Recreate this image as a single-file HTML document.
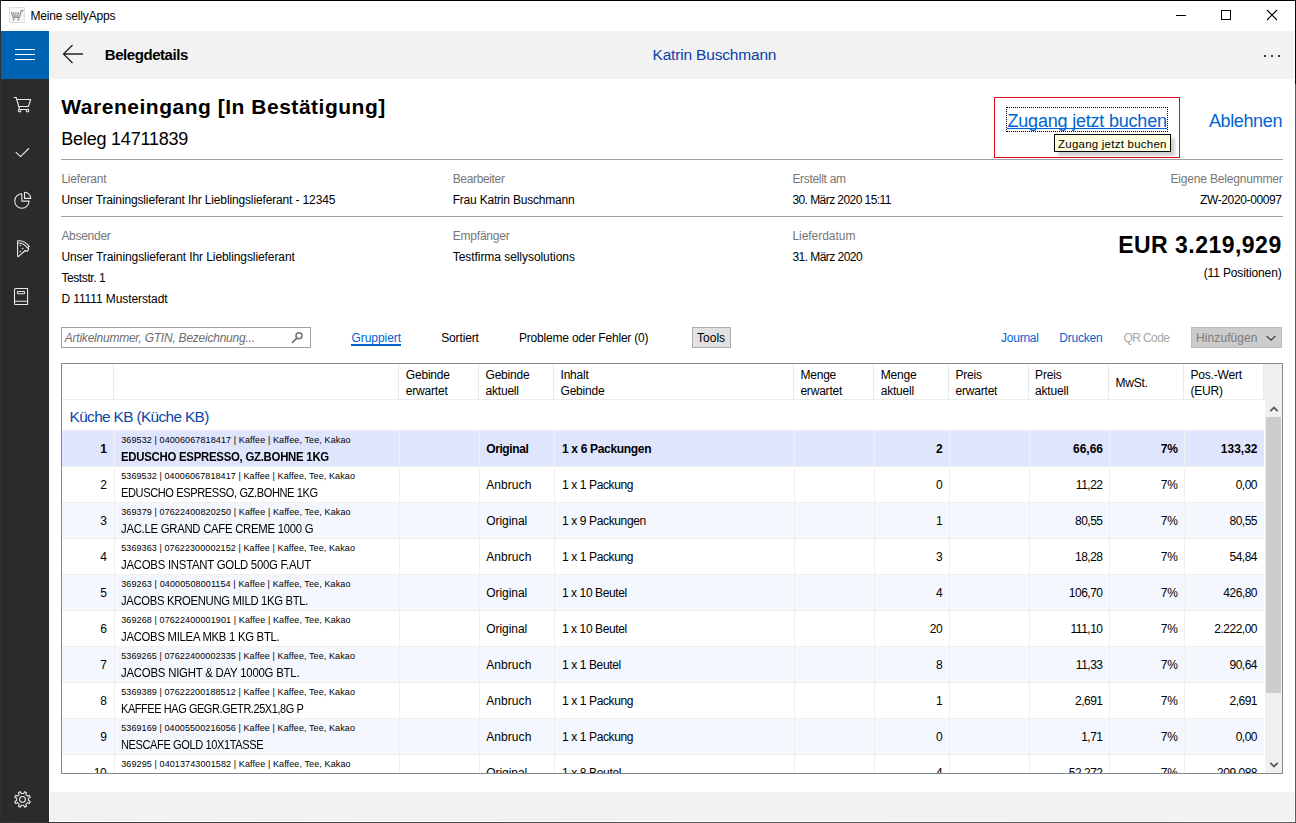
<!DOCTYPE html><html><head><meta charset="utf-8"><title>Meine sellyApps</title><style>*{margin:0;padding:0}
html,body{width:1296px;height:823px;overflow:hidden;background:#fff}
body{position:relative;font-family:"Liberation Sans",Arial,sans-serif}
.t{position:absolute;white-space:pre}
.r{position:absolute}
</style></head><body>
<div class="r" style="left:0px;top:0px;width:1296px;height:823px;background:#fff"></div>
<svg class="r" style="left:9px;top:7px" width="16" height="16" viewBox="0 0 16 16">
<rect x="0.5" y="0.5" width="15" height="15" fill="#f7f7f7" stroke="#e0e0e0"/>
<path d="M2.3 5 L3.9 10 M4.4 5.2 L5.6 9.6 M6.9 5.2 L7 9.6 M9.3 5.2 L8.6 9.6 M11.6 5 L10.6 10 L12.3 3.6 H14.4 M3.6 10.4 H11" fill="none" stroke="#8c8c8c" stroke-width="1.1"/>
<circle cx="4.5" cy="12.4" r="1" fill="#8c8c8c"/><circle cx="9.5" cy="12.4" r="1" fill="#8c8c8c"/>
</svg>
<div class="t " style="top:9px;font-size:12px;line-height:14px;color:#000;letter-spacing:-0.170px;left:30.50px;">Meine sellyApps</div>
<div class="r" style="left:1176px;top:15px;width:10px;height:1px;background:#000"></div>
<div class="r" style="left:1221px;top:10px;width:10px;height:10px;border:1px solid #000;box-sizing:border-box"></div>
<svg class="r" style="left:1266px;top:9px" width="12" height="12" viewBox="0 0 12 12"><path d="M1 1 L11 11 M11 1 L1 11" stroke="#000" stroke-width="1.1"/></svg>
<div class="r" style="left:1px;top:31px;width:48px;height:48px;background:#0063b1"></div>
<div class="r" style="left:1px;top:79px;width:48px;height:743px;background:#2b2b2b"></div>
<div class="r" style="left:15px;top:49px;width:20px;height:1px;background:#fff"></div>
<div class="r" style="left:15px;top:54px;width:20px;height:1px;background:#fff"></div>
<div class="r" style="left:15px;top:59px;width:20px;height:1px;background:#fff"></div>
<svg class="r" style="left:12px;top:95px" width="22" height="20" viewBox="0 0 22 20"><path d="M2.1 2.5 H4.2 L7.6 14.5 H16.6 M4.8 4.5 H18.7 L16.4 11.5 H6.7" fill="none" stroke="#e8e8e8" stroke-width="1.1" stroke-linecap="round" stroke-linejoin="round"/><circle cx="7.6" cy="15.6" r="1.3" fill="none" stroke="#e8e8e8" stroke-width="1.1" stroke-linecap="round" stroke-linejoin="round"/><circle cx="15.5" cy="15.6" r="1.3" fill="none" stroke="#e8e8e8" stroke-width="1.1" stroke-linecap="round" stroke-linejoin="round"/></svg>
<svg class="r" style="left:14px;top:145px" width="18" height="14" viewBox="0 0 18 14"><path d="M2.1 7.4 L6.5 11.6 L14.7 3.5" fill="none" stroke="#e8e8e8" stroke-width="1.1" stroke-linecap="round" stroke-linejoin="round"/></svg>
<svg class="r" style="left:12px;top:190px" width="22" height="22" viewBox="0 0 22 22"><path d="M9.8 3.8 A7.2 7.2 0 1 0 17.1 11.1 H9.8 Z" fill="none" stroke="#e8e8e8" stroke-width="1.1" stroke-linecap="round" stroke-linejoin="round"/><path d="M12.5 2.2 A6.2 6.2 0 0 1 18.7 8.4 H12.5 Z" fill="none" stroke="#e8e8e8" stroke-width="1.1" stroke-linecap="round" stroke-linejoin="round"/></svg>
<svg class="r" style="left:14px;top:238px" width="18" height="22" viewBox="0 0 18 22"><path d="M3.6 2.8 Q10.5 2.2 15.2 8.4 L13.9 9.7 A1.9 1.9 0 0 1 11.1 12.5 L4.6 18.4 Q3.6 19 3.6 17.6 Z" fill="none" stroke="#e8e8e8" stroke-width="1.1" stroke-linecap="round" stroke-linejoin="round"/><path d="M3.8 5 Q9.8 4.8 13.6 10.1" fill="none" stroke="#e8e8e8" stroke-width="1.1" stroke-linecap="round" stroke-linejoin="round"/><circle cx="6.3" cy="7.6" r="0.75" fill="#e8e8e8"/><circle cx="8.6" cy="10.5" r="0.85" fill="#e8e8e8"/><circle cx="6.3" cy="13.6" r="0.75" fill="#e8e8e8"/></svg>
<svg class="r" style="left:12px;top:286px" width="20" height="21" viewBox="0 0 20 21"><path d="M3.6 2.5 H15.6 V18.5 H3.6 Q2.5 18.5 2.5 17.4 V3.6 Q2.5 2.5 3.6 2.5 Z M2.5 15.2 H15.6" fill="none" stroke="#e8e8e8" stroke-width="1.1" stroke-linecap="round" stroke-linejoin="round"/><rect x="5.4" y="5.5" width="7.2" height="2.3" rx="0.8" fill="none" stroke="#e8e8e8" stroke-width="1.1" stroke-linecap="round" stroke-linejoin="round"/></svg>
<svg class="r" style="left:12px;top:789px" width="22" height="22" viewBox="0 0 22 22"><path d="M16.38 11.62 L18.23 12.45 L17.42 14.42 L15.51 13.69 L13.79 15.41 L14.52 17.32 L12.55 18.13 L11.72 16.28 L9.28 16.28 L8.45 18.13 L6.48 17.32 L7.21 15.41 L5.49 13.69 L3.58 14.42 L2.77 12.45 L4.62 11.62 L4.62 9.18 L2.77 8.35 L3.58 6.38 L5.49 7.11 L7.21 5.39 L6.48 3.48 L8.45 2.67 L9.28 4.52 L11.72 4.52 L12.55 2.67 L14.52 3.48 L13.79 5.39 L15.51 7.11 L17.42 6.38 L18.23 8.35 L16.38 9.18 Z" fill="none" stroke="#e8e8e8" stroke-width="1.1" stroke-linecap="round" stroke-linejoin="round"/><circle cx="10.5" cy="10.4" r="2.9" fill="none" stroke="#e8e8e8" stroke-width="1.1" stroke-linecap="round" stroke-linejoin="round"/></svg>
<div class="r" style="left:50px;top:31px;width:1244px;height:48px;background:#f2f2f2"></div>
<svg class="r" style="left:62px;top:44px" width="22" height="20" viewBox="0 0 22 20"><path d="M10.5 1 L1.5 10 L10.5 19 M1.5 10 H21" fill="none" stroke="#222" stroke-width="1.3"/></svg>
<div class="t " style="top:46px;font-size:15px;line-height:17px;color:#000;font-weight:bold;letter-spacing:-0.443px;left:104.80px;">Belegdetails</div>
<div class="t " style="top:46px;font-size:15.5px;line-height:17px;color:#0a3fa8;letter-spacing:-0.177px;left:652.50px;">Katrin Buschmann</div>
<div class="r" style="left:1264px;top:55px;width:2px;height:2px;background:#000;border-radius:1px"></div>
<div class="r" style="left:1271px;top:55px;width:2px;height:2px;background:#000;border-radius:1px"></div>
<div class="r" style="left:1278px;top:55px;width:2px;height:2px;background:#000;border-radius:1px"></div>
<div class="t " style="top:95px;font-size:21px;line-height:23px;color:#000;font-weight:bold;letter-spacing:0.516px;left:61.30px;">Wareneingang [In Bestätigung]</div>
<div class="t " style="top:129px;font-size:18px;line-height:20px;color:#000;letter-spacing:-0.215px;left:61.30px;">Beleg 14711839</div>
<div class="r" style="left:994px;top:97px;width:186px;height:61px;border:1px solid #e0101e;box-sizing:border-box"></div>
<div class="r" style="left:1006px;top:107px;width:162px;height:25px;border:1px dotted #000;box-sizing:border-box"></div>
<div class="t " style="top:111px;font-size:18px;line-height:20px;color:#0063d1;letter-spacing:-0.201px;left:1007.50px;">Zugang jetzt buchen</div>
<div class="r" style="left:1007px;top:128px;width:160px;height:1px;background:#0063d1"></div>
<div class="t " style="top:111px;font-size:18px;line-height:20px;color:#0063d1;letter-spacing:-0.367px;left:1208.90px;">Ablehnen</div>
<div class="r" style="left:1058px;top:138px;width:117px;height:18px;background:rgba(0,0,0,0.18);filter:blur(1.5px)"></div>
<div class="r" style="left:1054px;top:134px;width:117px;height:18px;background:#ffffe1;border:1px solid #000;box-sizing:border-box"></div>
<div class="t " style="top:137.5px;font-size:11.5px;line-height:12px;color:#000;letter-spacing:0.233px;left:1058.00px;">Zugang jetzt buchen</div>
<div class="r" style="left:61px;top:159px;width:1222px;height:1px;background:#a0a0a0"></div>
<div class="r" style="left:61px;top:216px;width:1222px;height:1px;background:#a0a0a0"></div>
<div class="t " style="top:172px;font-size:12px;line-height:14px;color:#767676;letter-spacing:-0.200px;left:61.40px;">Lieferant</div>
<div class="t " style="top:172px;font-size:12px;line-height:14px;color:#767676;letter-spacing:-0.352px;left:452.70px;">Bearbeiter</div>
<div class="t " style="top:172px;font-size:12px;line-height:14px;color:#767676;letter-spacing:-0.308px;left:792.40px;">Erstellt am</div>
<div class="t " style="top:172px;font-size:12px;line-height:14px;color:#767676;letter-spacing:-0.182px;left:1170.50px;">Eigene Belegnummer</div>
<div class="t " style="top:193px;font-size:12px;line-height:14px;color:#000;letter-spacing:-0.139px;left:61.40px;">Unser Trainingslieferant Ihr Lieblingslieferant - 12345</div>
<div class="t " style="top:193px;font-size:12px;line-height:14px;color:#000;letter-spacing:-0.208px;left:452.70px;">Frau Katrin Buschmann</div>
<div class="t " style="top:193px;font-size:12px;line-height:14px;color:#000;letter-spacing:-0.560px;left:792.40px;">30. März 2020 15:11</div>
<div class="t " style="top:193px;font-size:12px;line-height:14px;color:#000;letter-spacing:-0.375px;left:1200.00px;">ZW-2020-00097</div>
<div class="t " style="top:229px;font-size:12px;line-height:14px;color:#767676;letter-spacing:-0.281px;left:61.40px;">Absender</div>
<div class="t " style="top:229px;font-size:12px;line-height:14px;color:#767676;letter-spacing:-0.200px;left:452.70px;">Empfänger</div>
<div class="t " style="top:229px;font-size:12px;line-height:14px;color:#767676;letter-spacing:-0.037px;left:792.40px;">Lieferdatum</div>
<div class="t " style="top:250px;font-size:12px;line-height:14px;color:#000;letter-spacing:-0.088px;left:61.40px;">Unser Trainingslieferant Ihr Lieblingslieferant</div>
<div class="t " style="top:250px;font-size:12px;line-height:14px;color:#000;letter-spacing:-0.051px;left:452.70px;">Testfirma sellysolutions</div>
<div class="t " style="top:250px;font-size:12px;line-height:14px;color:#000;letter-spacing:-0.542px;left:792.40px;">31. März 2020</div>
<div class="t " style="top:271px;font-size:12px;line-height:14px;color:#000;letter-spacing:-0.402px;left:61.40px;">Teststr. 1</div>
<div class="t " style="top:292px;font-size:12px;line-height:14px;color:#000;letter-spacing:-0.091px;left:61.40px;">D 11111 Musterstadt</div>
<div class="t " style="top:232px;font-size:23px;line-height:26px;color:#000;font-weight:bold;letter-spacing:0.477px;left:1118.20px;">EUR 3.219,929</div>
<div class="t " style="top:266px;font-size:12px;line-height:14px;color:#000;letter-spacing:-0.130px;left:1203.70px;">(11 Positionen)</div>
<div class="r" style="left:61px;top:327px;width:250px;height:21px;border:1px solid #a0a0a0;box-sizing:border-box;background:#fff"></div>
<div class="t " style="top:331px;font-size:12px;line-height:14px;color:#6d6d6d;font-style:italic;letter-spacing:-0.232px;left:64.80px;">Artikelnummer, GTIN, Bezeichnung...</div>
<svg class="r" style="left:290px;top:331px" width="16" height="14" viewBox="0 0 16 14"><circle cx="9" cy="4.8" r="3.0" fill="none" stroke="#707070" stroke-width="1.5"/><path d="M6.6 7.3 L2.4 11.4" stroke="#707070" stroke-width="1.7" stroke-linecap="round"/></svg>
<div class="t " style="top:331px;font-size:12px;line-height:14px;color:#0063d1;letter-spacing:-0.040px;left:351.40px;">Gruppiert</div>
<div class="r" style="left:351px;top:344px;width:50px;height:2px;background:#0063d1"></div>
<div class="t " style="top:331px;font-size:12px;line-height:14px;color:#000;letter-spacing:-0.140px;left:441.20px;">Sortiert</div>
<div class="t " style="top:331px;font-size:12px;line-height:14px;color:#000;letter-spacing:-0.194px;left:519.00px;">Probleme oder Fehler (0)</div>
<div class="r" style="left:692px;top:327px;width:39px;height:21px;background:#e1e1e1;border:1px solid #adadad;box-sizing:border-box"></div>
<div class="t " style="top:331px;font-size:12px;line-height:14px;color:#000;letter-spacing:-0.003px;left:697.10px;">Tools</div>
<div class="t " style="top:331px;font-size:12px;line-height:14px;color:#0063d1;letter-spacing:-0.260px;left:1001.10px;">Journal</div>
<div class="t " style="top:331px;font-size:12px;line-height:14px;color:#0063d1;letter-spacing:-0.213px;left:1059.20px;">Drucken</div>
<div class="t " style="top:331px;font-size:12px;line-height:14px;color:#a6a6a6;letter-spacing:-0.570px;left:1123.40px;">QR Code</div>
<div class="r" style="left:1191px;top:327px;width:91px;height:21px;background:#cccccc;border:1px solid #bdbdbd;box-sizing:border-box"></div>
<div class="t " style="top:331px;font-size:12px;line-height:14px;color:#7a7a7a;letter-spacing:0.077px;left:1196.10px;">Hinzufügen</div>
<svg class="r" style="left:1265px;top:334px" width="12" height="8" viewBox="0 0 12 8"><path d="M1.6 1.8 L6 6.2 L10.4 1.8" fill="none" stroke="#333" stroke-width="1.1"/></svg>
<div class="r" style="left:61px;top:363px;width:1222px;height:411px;border:1px solid #828790;box-sizing:border-box;background:#fff"></div>
<div class="r" style="left:62px;top:399px;width:1202px;height:1px;background:#ececec"></div>
<div class="r" style="left:1264px;top:364px;width:18px;height:36px;background:#f0f0f0"></div>
<div class="r" style="left:113px;top:364px;width:1px;height:35px;background:#e8e8e8"></div>
<div class="r" style="left:398px;top:364px;width:1px;height:35px;background:#e8e8e8"></div>
<div class="r" style="left:478px;top:364px;width:1px;height:35px;background:#e8e8e8"></div>
<div class="r" style="left:553px;top:364px;width:1px;height:35px;background:#e8e8e8"></div>
<div class="r" style="left:793px;top:364px;width:1px;height:35px;background:#e8e8e8"></div>
<div class="r" style="left:873px;top:364px;width:1px;height:35px;background:#e8e8e8"></div>
<div class="r" style="left:948px;top:364px;width:1px;height:35px;background:#e8e8e8"></div>
<div class="r" style="left:1028px;top:364px;width:1px;height:35px;background:#e8e8e8"></div>
<div class="r" style="left:1108px;top:364px;width:1px;height:35px;background:#e8e8e8"></div>
<div class="r" style="left:1183px;top:364px;width:1px;height:35px;background:#e8e8e8"></div>
<div class="r" style="left:1263px;top:364px;width:1px;height:35px;background:#e8e8e8"></div>
<div class="t " style="top:368px;font-size:12px;line-height:14px;color:#000;letter-spacing:-0.200px;left:405.80px;">Gebinde</div>
<div class="t " style="top:384px;font-size:12px;line-height:14px;color:#000;letter-spacing:-0.200px;left:405.80px;">erwartet</div>
<div class="t " style="top:368px;font-size:12px;line-height:14px;color:#000;letter-spacing:-0.200px;left:485.50px;">Gebinde</div>
<div class="t " style="top:384px;font-size:12px;line-height:14px;color:#000;letter-spacing:-0.200px;left:485.50px;">aktuell</div>
<div class="t " style="top:368px;font-size:12px;line-height:14px;color:#000;letter-spacing:-0.200px;left:560.50px;">Inhalt</div>
<div class="t " style="top:384px;font-size:12px;line-height:14px;color:#000;letter-spacing:-0.200px;left:560.50px;">Gebinde</div>
<div class="t " style="top:368px;font-size:12px;line-height:14px;color:#000;letter-spacing:-0.200px;left:800.40px;">Menge</div>
<div class="t " style="top:384px;font-size:12px;line-height:14px;color:#000;letter-spacing:-0.200px;left:800.40px;">erwartet</div>
<div class="t " style="top:368px;font-size:12px;line-height:14px;color:#000;letter-spacing:-0.200px;left:880.70px;">Menge</div>
<div class="t " style="top:384px;font-size:12px;line-height:14px;color:#000;letter-spacing:-0.200px;left:880.70px;">aktuell</div>
<div class="t " style="top:368px;font-size:12px;line-height:14px;color:#000;letter-spacing:-0.200px;left:955.50px;">Preis</div>
<div class="t " style="top:384px;font-size:12px;line-height:14px;color:#000;letter-spacing:-0.200px;left:955.50px;">erwartet</div>
<div class="t " style="top:368px;font-size:12px;line-height:14px;color:#000;letter-spacing:-0.200px;left:1035.10px;">Preis</div>
<div class="t " style="top:384px;font-size:12px;line-height:14px;color:#000;letter-spacing:-0.200px;left:1035.10px;">aktuell</div>
<div class="t " style="top:368px;font-size:12px;line-height:14px;color:#000;letter-spacing:-0.200px;left:1190.50px;">Pos.-Wert</div>
<div class="t " style="top:384px;font-size:12px;line-height:14px;color:#000;letter-spacing:-0.200px;left:1190.50px;">(EUR)</div>
<div class="t " style="top:376px;font-size:12px;line-height:14px;color:#000;letter-spacing:-0.200px;left:1115.50px;">MwSt.</div>
<div class="t " style="top:408px;font-size:15.4px;line-height:17px;color:#0b46a8;letter-spacing:-0.651px;left:69.60px;">Küche KB (Küche KB)</div>
<div class="r" style="left:62px;top:430px;width:1202px;height:343px;overflow:hidden">
<div style="position:absolute;left:-62px;top:-430px;width:1296px;height:823px">
<div class="r" style="left:62px;top:430px;width:1202px;height:1px;background:#f0f0f0"></div>
<div class="r" style="left:62px;top:431px;width:1202px;height:35px;background:#e0e5fe"></div>
<div class="r" style="left:114px;top:431px;width:1px;height:35px;background:#f0f0f0"></div>
<div class="r" style="left:399px;top:431px;width:1px;height:35px;background:#f0f0f0"></div>
<div class="r" style="left:479px;top:431px;width:1px;height:35px;background:#f0f0f0"></div>
<div class="r" style="left:554px;top:431px;width:1px;height:35px;background:#f0f0f0"></div>
<div class="r" style="left:794px;top:431px;width:1px;height:35px;background:#f0f0f0"></div>
<div class="r" style="left:874px;top:431px;width:1px;height:35px;background:#f0f0f0"></div>
<div class="r" style="left:949px;top:431px;width:1px;height:35px;background:#f0f0f0"></div>
<div class="r" style="left:1029px;top:431px;width:1px;height:35px;background:#f0f0f0"></div>
<div class="r" style="left:1109px;top:431px;width:1px;height:35px;background:#f0f0f0"></div>
<div class="r" style="left:1184px;top:431px;width:1px;height:35px;background:#f0f0f0"></div>
<div class="t " style="top:441.6px;font-size:12px;line-height:14px;color:#000;font-weight:bold;left:100.13px;">1</div>
<div class="t " style="top:435px;font-size:9px;line-height:10px;color:#000;letter-spacing:0.108px;left:121.20px;">369532 | 04006067818417 | Kaffee | Kaffee, Tee, Kakao</div>
<div class="t " style="top:450px;font-size:12px;line-height:14px;color:#000;font-weight:bold;letter-spacing:-0.271px;transform:scaleX(0.9485);transform-origin:0 0;left:121.20px;">EDUSCHO ESPRESSO, GZ.BOHNE 1KG</div>
<div class="t " style="top:441.6px;font-size:12px;line-height:14px;color:#000;font-weight:bold;letter-spacing:-0.384px;left:486.20px;">Original</div>
<div class="t " style="top:441.6px;font-size:12px;line-height:14px;color:#000;font-weight:bold;letter-spacing:-0.317px;left:561.90px;">1 x 6 Packungen</div>
<div class="t " style="top:441.6px;font-size:12px;line-height:14px;color:#000;font-weight:bold;left:935.93px;">2</div>
<div class="t " style="top:441.6px;font-size:12px;line-height:14px;color:#000;font-weight:bold;left:1072.97px;">66,66</div>
<div class="t " style="top:441.6px;font-size:12px;line-height:14px;color:#000;font-weight:bold;left:1160.66px;">7%</div>
<div class="t " style="top:441.6px;font-size:12px;line-height:14px;color:#000;font-weight:bold;left:1220.80px;">133,32</div>
<div class="r" style="left:62px;top:466px;width:1202px;height:1px;background:#f0f0f0"></div>
<div class="r" style="left:62px;top:467px;width:1202px;height:35px;background:#fff"></div>
<div class="r" style="left:114px;top:467px;width:1px;height:35px;background:#f0f0f0"></div>
<div class="r" style="left:399px;top:467px;width:1px;height:35px;background:#f0f0f0"></div>
<div class="r" style="left:479px;top:467px;width:1px;height:35px;background:#f0f0f0"></div>
<div class="r" style="left:554px;top:467px;width:1px;height:35px;background:#f0f0f0"></div>
<div class="r" style="left:794px;top:467px;width:1px;height:35px;background:#f0f0f0"></div>
<div class="r" style="left:874px;top:467px;width:1px;height:35px;background:#f0f0f0"></div>
<div class="r" style="left:949px;top:467px;width:1px;height:35px;background:#f0f0f0"></div>
<div class="r" style="left:1029px;top:467px;width:1px;height:35px;background:#f0f0f0"></div>
<div class="r" style="left:1109px;top:467px;width:1px;height:35px;background:#f0f0f0"></div>
<div class="r" style="left:1184px;top:467px;width:1px;height:35px;background:#f0f0f0"></div>
<div class="t " style="top:477.6px;font-size:12px;line-height:14px;color:#000;left:100.13px;">2</div>
<div class="t " style="top:471px;font-size:9px;line-height:10px;color:#000;letter-spacing:0.094px;left:121.20px;">5369532 | 04006067818417 | Kaffee | Kaffee, Tee, Kakao</div>
<div class="t " style="top:486px;font-size:12px;line-height:14px;color:#000;letter-spacing:-0.416px;transform:scaleX(0.9211);transform-origin:0 0;left:121.20px;">EDUSCHO ESPRESSO, GZ.BOHNE 1KG</div>
<div class="t " style="top:477.6px;font-size:12px;line-height:14px;color:#000;letter-spacing:0.083px;left:486.20px;">Anbruch</div>
<div class="t " style="top:477.6px;font-size:12px;line-height:14px;color:#000;letter-spacing:-0.371px;left:561.90px;">1 x 1 Packung</div>
<div class="t " style="top:477.6px;font-size:12px;line-height:14px;color:#000;left:935.93px;">0</div>
<div class="t " style="top:477.6px;font-size:12px;line-height:14px;color:#000;letter-spacing:-0.500px;left:1075.86px;">11,22</div>
<div class="t " style="top:477.6px;font-size:12px;line-height:14px;color:#000;letter-spacing:-0.200px;left:1160.86px;">7%</div>
<div class="t " style="top:477.6px;font-size:12px;line-height:14px;color:#000;letter-spacing:-0.500px;left:1235.64px;">0,00</div>
<div class="r" style="left:62px;top:502px;width:1202px;height:1px;background:#f0f0f0"></div>
<div class="r" style="left:62px;top:503px;width:1202px;height:35px;background:#f4f7fe"></div>
<div class="r" style="left:114px;top:503px;width:1px;height:35px;background:#f0f0f0"></div>
<div class="r" style="left:399px;top:503px;width:1px;height:35px;background:#f0f0f0"></div>
<div class="r" style="left:479px;top:503px;width:1px;height:35px;background:#f0f0f0"></div>
<div class="r" style="left:554px;top:503px;width:1px;height:35px;background:#f0f0f0"></div>
<div class="r" style="left:794px;top:503px;width:1px;height:35px;background:#f0f0f0"></div>
<div class="r" style="left:874px;top:503px;width:1px;height:35px;background:#f0f0f0"></div>
<div class="r" style="left:949px;top:503px;width:1px;height:35px;background:#f0f0f0"></div>
<div class="r" style="left:1029px;top:503px;width:1px;height:35px;background:#f0f0f0"></div>
<div class="r" style="left:1109px;top:503px;width:1px;height:35px;background:#f0f0f0"></div>
<div class="r" style="left:1184px;top:503px;width:1px;height:35px;background:#f0f0f0"></div>
<div class="t " style="top:513.6px;font-size:12px;line-height:14px;color:#000;left:100.13px;">3</div>
<div class="t " style="top:507px;font-size:9px;line-height:10px;color:#000;letter-spacing:0.108px;left:121.20px;">369379 | 07622400820250 | Kaffee | Kaffee, Tee, Kakao</div>
<div class="t " style="top:522px;font-size:12px;line-height:14px;color:#000;letter-spacing:-0.278px;transform:scaleX(0.9436);transform-origin:0 0;left:121.20px;">JAC.LE GRAND CAFE CREME 1000 G</div>
<div class="t " style="top:513.6px;font-size:12px;line-height:14px;color:#000;letter-spacing:-0.036px;left:486.20px;">Original</div>
<div class="t " style="top:513.6px;font-size:12px;line-height:14px;color:#000;letter-spacing:-0.361px;left:561.90px;">1 x 9 Packungen</div>
<div class="t " style="top:513.6px;font-size:12px;line-height:14px;color:#000;left:935.93px;">1</div>
<div class="t " style="top:513.6px;font-size:12px;line-height:14px;color:#000;letter-spacing:-0.500px;left:1074.97px;">80,55</div>
<div class="t " style="top:513.6px;font-size:12px;line-height:14px;color:#000;letter-spacing:-0.200px;left:1160.86px;">7%</div>
<div class="t " style="top:513.6px;font-size:12px;line-height:14px;color:#000;letter-spacing:-0.500px;left:1229.47px;">80,55</div>
<div class="r" style="left:62px;top:538px;width:1202px;height:1px;background:#f0f0f0"></div>
<div class="r" style="left:62px;top:539px;width:1202px;height:35px;background:#fff"></div>
<div class="r" style="left:114px;top:539px;width:1px;height:35px;background:#f0f0f0"></div>
<div class="r" style="left:399px;top:539px;width:1px;height:35px;background:#f0f0f0"></div>
<div class="r" style="left:479px;top:539px;width:1px;height:35px;background:#f0f0f0"></div>
<div class="r" style="left:554px;top:539px;width:1px;height:35px;background:#f0f0f0"></div>
<div class="r" style="left:794px;top:539px;width:1px;height:35px;background:#f0f0f0"></div>
<div class="r" style="left:874px;top:539px;width:1px;height:35px;background:#f0f0f0"></div>
<div class="r" style="left:949px;top:539px;width:1px;height:35px;background:#f0f0f0"></div>
<div class="r" style="left:1029px;top:539px;width:1px;height:35px;background:#f0f0f0"></div>
<div class="r" style="left:1109px;top:539px;width:1px;height:35px;background:#f0f0f0"></div>
<div class="r" style="left:1184px;top:539px;width:1px;height:35px;background:#f0f0f0"></div>
<div class="t " style="top:549.6px;font-size:12px;line-height:14px;color:#000;left:100.13px;">4</div>
<div class="t " style="top:543px;font-size:9px;line-height:10px;color:#000;letter-spacing:0.094px;left:121.20px;">5369363 | 07622300002152 | Kaffee | Kaffee, Tee, Kakao</div>
<div class="t " style="top:558px;font-size:12px;line-height:14px;color:#000;letter-spacing:-0.256px;transform:scaleX(0.9470);transform-origin:0 0;left:121.20px;">JACOBS INSTANT GOLD 500G F.AUT</div>
<div class="t " style="top:549.6px;font-size:12px;line-height:14px;color:#000;letter-spacing:0.083px;left:486.20px;">Anbruch</div>
<div class="t " style="top:549.6px;font-size:12px;line-height:14px;color:#000;letter-spacing:-0.371px;left:561.90px;">1 x 1 Packung</div>
<div class="t " style="top:549.6px;font-size:12px;line-height:14px;color:#000;left:935.93px;">3</div>
<div class="t " style="top:549.6px;font-size:12px;line-height:14px;color:#000;letter-spacing:-0.500px;left:1074.97px;">18,28</div>
<div class="t " style="top:549.6px;font-size:12px;line-height:14px;color:#000;letter-spacing:-0.200px;left:1160.86px;">7%</div>
<div class="t " style="top:549.6px;font-size:12px;line-height:14px;color:#000;letter-spacing:-0.500px;left:1229.47px;">54,84</div>
<div class="r" style="left:62px;top:574px;width:1202px;height:1px;background:#f0f0f0"></div>
<div class="r" style="left:62px;top:575px;width:1202px;height:35px;background:#f4f7fe"></div>
<div class="r" style="left:114px;top:575px;width:1px;height:35px;background:#f0f0f0"></div>
<div class="r" style="left:399px;top:575px;width:1px;height:35px;background:#f0f0f0"></div>
<div class="r" style="left:479px;top:575px;width:1px;height:35px;background:#f0f0f0"></div>
<div class="r" style="left:554px;top:575px;width:1px;height:35px;background:#f0f0f0"></div>
<div class="r" style="left:794px;top:575px;width:1px;height:35px;background:#f0f0f0"></div>
<div class="r" style="left:874px;top:575px;width:1px;height:35px;background:#f0f0f0"></div>
<div class="r" style="left:949px;top:575px;width:1px;height:35px;background:#f0f0f0"></div>
<div class="r" style="left:1029px;top:575px;width:1px;height:35px;background:#f0f0f0"></div>
<div class="r" style="left:1109px;top:575px;width:1px;height:35px;background:#f0f0f0"></div>
<div class="r" style="left:1184px;top:575px;width:1px;height:35px;background:#f0f0f0"></div>
<div class="t " style="top:585.6px;font-size:12px;line-height:14px;color:#000;left:100.13px;">5</div>
<div class="t " style="top:579px;font-size:9px;line-height:10px;color:#000;letter-spacing:0.120px;left:121.20px;">369263 | 04000508001154 | Kaffee | Kaffee, Tee, Kakao</div>
<div class="t " style="top:594px;font-size:12px;line-height:14px;color:#000;letter-spacing:-0.314px;transform:scaleX(0.9374);transform-origin:0 0;left:121.20px;">JACOBS KROENUNG MILD 1KG BTL.</div>
<div class="t " style="top:585.6px;font-size:12px;line-height:14px;color:#000;letter-spacing:-0.036px;left:486.20px;">Original</div>
<div class="t " style="top:585.6px;font-size:12px;line-height:14px;color:#000;letter-spacing:-0.404px;left:561.90px;">1 x 10 Beutel</div>
<div class="t " style="top:585.6px;font-size:12px;line-height:14px;color:#000;left:935.93px;">4</div>
<div class="t " style="top:585.6px;font-size:12px;line-height:14px;color:#000;letter-spacing:-0.500px;left:1068.80px;">106,70</div>
<div class="t " style="top:585.6px;font-size:12px;line-height:14px;color:#000;letter-spacing:-0.200px;left:1160.86px;">7%</div>
<div class="t " style="top:585.6px;font-size:12px;line-height:14px;color:#000;letter-spacing:-0.500px;left:1223.30px;">426,80</div>
<div class="r" style="left:62px;top:610px;width:1202px;height:1px;background:#f0f0f0"></div>
<div class="r" style="left:62px;top:611px;width:1202px;height:35px;background:#fff"></div>
<div class="r" style="left:114px;top:611px;width:1px;height:35px;background:#f0f0f0"></div>
<div class="r" style="left:399px;top:611px;width:1px;height:35px;background:#f0f0f0"></div>
<div class="r" style="left:479px;top:611px;width:1px;height:35px;background:#f0f0f0"></div>
<div class="r" style="left:554px;top:611px;width:1px;height:35px;background:#f0f0f0"></div>
<div class="r" style="left:794px;top:611px;width:1px;height:35px;background:#f0f0f0"></div>
<div class="r" style="left:874px;top:611px;width:1px;height:35px;background:#f0f0f0"></div>
<div class="r" style="left:949px;top:611px;width:1px;height:35px;background:#f0f0f0"></div>
<div class="r" style="left:1029px;top:611px;width:1px;height:35px;background:#f0f0f0"></div>
<div class="r" style="left:1109px;top:611px;width:1px;height:35px;background:#f0f0f0"></div>
<div class="r" style="left:1184px;top:611px;width:1px;height:35px;background:#f0f0f0"></div>
<div class="t " style="top:621.6px;font-size:12px;line-height:14px;color:#000;left:100.13px;">6</div>
<div class="t " style="top:615px;font-size:9px;line-height:10px;color:#000;letter-spacing:0.108px;left:121.20px;">369268 | 07622400001901 | Kaffee | Kaffee, Tee, Kakao</div>
<div class="t " style="top:630px;font-size:12px;line-height:14px;color:#000;letter-spacing:-0.275px;transform:scaleX(0.9418);transform-origin:0 0;left:121.20px;">JACOBS MILEA MKB 1 KG BTL.</div>
<div class="t " style="top:621.6px;font-size:12px;line-height:14px;color:#000;letter-spacing:-0.036px;left:486.20px;">Original</div>
<div class="t " style="top:621.6px;font-size:12px;line-height:14px;color:#000;letter-spacing:-0.404px;left:561.90px;">1 x 10 Beutel</div>
<div class="t " style="top:621.6px;font-size:12px;line-height:14px;color:#000;letter-spacing:-0.500px;left:929.75px;">20</div>
<div class="t " style="top:621.6px;font-size:12px;line-height:14px;color:#000;letter-spacing:-0.500px;left:1070.58px;">111,10</div>
<div class="t " style="top:621.6px;font-size:12px;line-height:14px;color:#000;letter-spacing:-0.200px;left:1160.86px;">7%</div>
<div class="t " style="top:621.6px;font-size:12px;line-height:14px;color:#000;letter-spacing:-0.500px;left:1214.29px;">2.222,00</div>
<div class="r" style="left:62px;top:646px;width:1202px;height:1px;background:#f0f0f0"></div>
<div class="r" style="left:62px;top:647px;width:1202px;height:35px;background:#f4f7fe"></div>
<div class="r" style="left:114px;top:647px;width:1px;height:35px;background:#f0f0f0"></div>
<div class="r" style="left:399px;top:647px;width:1px;height:35px;background:#f0f0f0"></div>
<div class="r" style="left:479px;top:647px;width:1px;height:35px;background:#f0f0f0"></div>
<div class="r" style="left:554px;top:647px;width:1px;height:35px;background:#f0f0f0"></div>
<div class="r" style="left:794px;top:647px;width:1px;height:35px;background:#f0f0f0"></div>
<div class="r" style="left:874px;top:647px;width:1px;height:35px;background:#f0f0f0"></div>
<div class="r" style="left:949px;top:647px;width:1px;height:35px;background:#f0f0f0"></div>
<div class="r" style="left:1029px;top:647px;width:1px;height:35px;background:#f0f0f0"></div>
<div class="r" style="left:1109px;top:647px;width:1px;height:35px;background:#f0f0f0"></div>
<div class="r" style="left:1184px;top:647px;width:1px;height:35px;background:#f0f0f0"></div>
<div class="t " style="top:657.6px;font-size:12px;line-height:14px;color:#000;left:100.13px;">7</div>
<div class="t " style="top:651px;font-size:9px;line-height:10px;color:#000;letter-spacing:0.094px;left:121.20px;">5369265 | 07622400002335 | Kaffee | Kaffee, Tee, Kakao</div>
<div class="t " style="top:666px;font-size:12px;line-height:14px;color:#000;letter-spacing:-0.237px;transform:scaleX(0.9494);transform-origin:0 0;left:121.20px;">JACOBS NIGHT &amp; DAY 1000G BTL.</div>
<div class="t " style="top:657.6px;font-size:12px;line-height:14px;color:#000;letter-spacing:0.083px;left:486.20px;">Anbruch</div>
<div class="t " style="top:657.6px;font-size:12px;line-height:14px;color:#000;letter-spacing:-0.380px;left:561.90px;">1 x 1 Beutel</div>
<div class="t " style="top:657.6px;font-size:12px;line-height:14px;color:#000;left:935.93px;">8</div>
<div class="t " style="top:657.6px;font-size:12px;line-height:14px;color:#000;letter-spacing:-0.500px;left:1075.86px;">11,33</div>
<div class="t " style="top:657.6px;font-size:12px;line-height:14px;color:#000;letter-spacing:-0.200px;left:1160.86px;">7%</div>
<div class="t " style="top:657.6px;font-size:12px;line-height:14px;color:#000;letter-spacing:-0.500px;left:1229.47px;">90,64</div>
<div class="r" style="left:62px;top:682px;width:1202px;height:1px;background:#f0f0f0"></div>
<div class="r" style="left:62px;top:683px;width:1202px;height:35px;background:#fff"></div>
<div class="r" style="left:114px;top:683px;width:1px;height:35px;background:#f0f0f0"></div>
<div class="r" style="left:399px;top:683px;width:1px;height:35px;background:#f0f0f0"></div>
<div class="r" style="left:479px;top:683px;width:1px;height:35px;background:#f0f0f0"></div>
<div class="r" style="left:554px;top:683px;width:1px;height:35px;background:#f0f0f0"></div>
<div class="r" style="left:794px;top:683px;width:1px;height:35px;background:#f0f0f0"></div>
<div class="r" style="left:874px;top:683px;width:1px;height:35px;background:#f0f0f0"></div>
<div class="r" style="left:949px;top:683px;width:1px;height:35px;background:#f0f0f0"></div>
<div class="r" style="left:1029px;top:683px;width:1px;height:35px;background:#f0f0f0"></div>
<div class="r" style="left:1109px;top:683px;width:1px;height:35px;background:#f0f0f0"></div>
<div class="r" style="left:1184px;top:683px;width:1px;height:35px;background:#f0f0f0"></div>
<div class="t " style="top:693.6px;font-size:12px;line-height:14px;color:#000;left:100.13px;">8</div>
<div class="t " style="top:687px;font-size:9px;line-height:10px;color:#000;letter-spacing:0.094px;left:121.20px;">5369389 | 07622200188512 | Kaffee | Kaffee, Tee, Kakao</div>
<div class="t " style="top:702px;font-size:12px;line-height:14px;color:#000;letter-spacing:-0.442px;transform:scaleX(0.9113);transform-origin:0 0;left:121.20px;">KAFFEE HAG GEGR.GETR.25X1,8G P</div>
<div class="t " style="top:693.6px;font-size:12px;line-height:14px;color:#000;letter-spacing:0.083px;left:486.20px;">Anbruch</div>
<div class="t " style="top:693.6px;font-size:12px;line-height:14px;color:#000;letter-spacing:-0.371px;left:561.90px;">1 x 1 Packung</div>
<div class="t " style="top:693.6px;font-size:12px;line-height:14px;color:#000;left:935.93px;">1</div>
<div class="t " style="top:693.6px;font-size:12px;line-height:14px;color:#000;letter-spacing:-0.500px;left:1074.97px;">2,691</div>
<div class="t " style="top:693.6px;font-size:12px;line-height:14px;color:#000;letter-spacing:-0.200px;left:1160.86px;">7%</div>
<div class="t " style="top:693.6px;font-size:12px;line-height:14px;color:#000;letter-spacing:-0.500px;left:1229.47px;">2,691</div>
<div class="r" style="left:62px;top:718px;width:1202px;height:1px;background:#f0f0f0"></div>
<div class="r" style="left:62px;top:719px;width:1202px;height:35px;background:#f4f7fe"></div>
<div class="r" style="left:114px;top:719px;width:1px;height:35px;background:#f0f0f0"></div>
<div class="r" style="left:399px;top:719px;width:1px;height:35px;background:#f0f0f0"></div>
<div class="r" style="left:479px;top:719px;width:1px;height:35px;background:#f0f0f0"></div>
<div class="r" style="left:554px;top:719px;width:1px;height:35px;background:#f0f0f0"></div>
<div class="r" style="left:794px;top:719px;width:1px;height:35px;background:#f0f0f0"></div>
<div class="r" style="left:874px;top:719px;width:1px;height:35px;background:#f0f0f0"></div>
<div class="r" style="left:949px;top:719px;width:1px;height:35px;background:#f0f0f0"></div>
<div class="r" style="left:1029px;top:719px;width:1px;height:35px;background:#f0f0f0"></div>
<div class="r" style="left:1109px;top:719px;width:1px;height:35px;background:#f0f0f0"></div>
<div class="r" style="left:1184px;top:719px;width:1px;height:35px;background:#f0f0f0"></div>
<div class="t " style="top:729.6px;font-size:12px;line-height:14px;color:#000;left:100.13px;">9</div>
<div class="t " style="top:723px;font-size:9px;line-height:10px;color:#000;letter-spacing:0.094px;left:121.20px;">5369169 | 04005500216056 | Kaffee | Kaffee, Tee, Kakao</div>
<div class="t " style="top:738px;font-size:12px;line-height:14px;color:#000;letter-spacing:-0.424px;transform:scaleX(0.9197);transform-origin:0 0;left:121.20px;">NESCAFE GOLD 10X1TASSE</div>
<div class="t " style="top:729.6px;font-size:12px;line-height:14px;color:#000;letter-spacing:0.083px;left:486.20px;">Anbruch</div>
<div class="t " style="top:729.6px;font-size:12px;line-height:14px;color:#000;letter-spacing:-0.371px;left:561.90px;">1 x 1 Packung</div>
<div class="t " style="top:729.6px;font-size:12px;line-height:14px;color:#000;left:935.93px;">0</div>
<div class="t " style="top:729.6px;font-size:12px;line-height:14px;color:#000;letter-spacing:-0.500px;left:1081.14px;">1,71</div>
<div class="t " style="top:729.6px;font-size:12px;line-height:14px;color:#000;letter-spacing:-0.200px;left:1160.86px;">7%</div>
<div class="t " style="top:729.6px;font-size:12px;line-height:14px;color:#000;letter-spacing:-0.500px;left:1235.64px;">0,00</div>
<div class="r" style="left:62px;top:754px;width:1202px;height:1px;background:#f0f0f0"></div>
<div class="r" style="left:62px;top:755px;width:1202px;height:35px;background:#fff"></div>
<div class="r" style="left:114px;top:755px;width:1px;height:35px;background:#f0f0f0"></div>
<div class="r" style="left:399px;top:755px;width:1px;height:35px;background:#f0f0f0"></div>
<div class="r" style="left:479px;top:755px;width:1px;height:35px;background:#f0f0f0"></div>
<div class="r" style="left:554px;top:755px;width:1px;height:35px;background:#f0f0f0"></div>
<div class="r" style="left:794px;top:755px;width:1px;height:35px;background:#f0f0f0"></div>
<div class="r" style="left:874px;top:755px;width:1px;height:35px;background:#f0f0f0"></div>
<div class="r" style="left:949px;top:755px;width:1px;height:35px;background:#f0f0f0"></div>
<div class="r" style="left:1029px;top:755px;width:1px;height:35px;background:#f0f0f0"></div>
<div class="r" style="left:1109px;top:755px;width:1px;height:35px;background:#f0f0f0"></div>
<div class="r" style="left:1184px;top:755px;width:1px;height:35px;background:#f0f0f0"></div>
<div class="t " style="top:765.6px;font-size:12px;line-height:14px;color:#000;letter-spacing:-0.200px;left:93.65px;">10</div>
<div class="t " style="top:759px;font-size:9px;line-height:10px;color:#000;letter-spacing:0.108px;left:121.20px;">369295 | 04013743001582 | Kaffee | Kaffee, Tee, Kakao</div>
<div class="t " style="top:774px;font-size:12px;line-height:14px;color:#000;letter-spacing:-0.200px;left:121.20px;">JACOBS KROENUNG 500G</div>
<div class="t " style="top:765.6px;font-size:12px;line-height:14px;color:#000;letter-spacing:-0.036px;left:486.20px;">Original</div>
<div class="t " style="top:765.6px;font-size:12px;line-height:14px;color:#000;letter-spacing:-0.353px;left:561.90px;">1 x 8 Beutel</div>
<div class="t " style="top:765.6px;font-size:12px;line-height:14px;color:#000;left:935.93px;">4</div>
<div class="t " style="top:765.6px;font-size:12px;line-height:14px;color:#000;letter-spacing:-0.500px;left:1068.80px;">52,272</div>
<div class="t " style="top:765.6px;font-size:12px;line-height:14px;color:#000;letter-spacing:-0.200px;left:1160.86px;">7%</div>
<div class="t " style="top:765.6px;font-size:12px;line-height:14px;color:#000;letter-spacing:-0.500px;left:1217.12px;">209,088</div>
</div></div>
<div class="r" style="left:1265px;top:400px;width:17px;height:373px;background:#f0f0f0"></div>
<div class="r" style="left:1266px;top:417px;width:15px;height:276px;background:#cdcdcd"></div>
<svg class="r" style="left:1269px;top:405px" width="10" height="8" viewBox="0 0 10 8"><path d="M1.3 6.2 L5 2.5 L8.7 6.2" fill="none" stroke="#5a5a5a" stroke-width="1.9"/></svg>
<svg class="r" style="left:1269px;top:761px" width="10" height="8" viewBox="0 0 10 8"><path d="M1.3 1.8 L5 5.5 L8.7 1.8" fill="none" stroke="#5a5a5a" stroke-width="1.9"/></svg>
<div class="r" style="left:50px;top:792px;width:1244px;height:29px;background:#f2f2f2"></div>
<div class="r" style="left:0px;top:0px;width:1296px;height:1px;background:#000"></div>
<div class="r" style="left:0px;top:0px;width:1px;height:823px;background:#303030"></div>
<div class="r" style="left:1295px;top:0px;width:1px;height:84px;background:#080808"></div>
<div class="r" style="left:1295px;top:84px;width:1px;height:739px;background:#5c5c5c"></div>
<div class="r" style="left:0px;top:822px;width:1296px;height:1px;background:linear-gradient(90deg,#333,#4a4a4a 30%,#5a5a5a)"></div>
</body></html>
